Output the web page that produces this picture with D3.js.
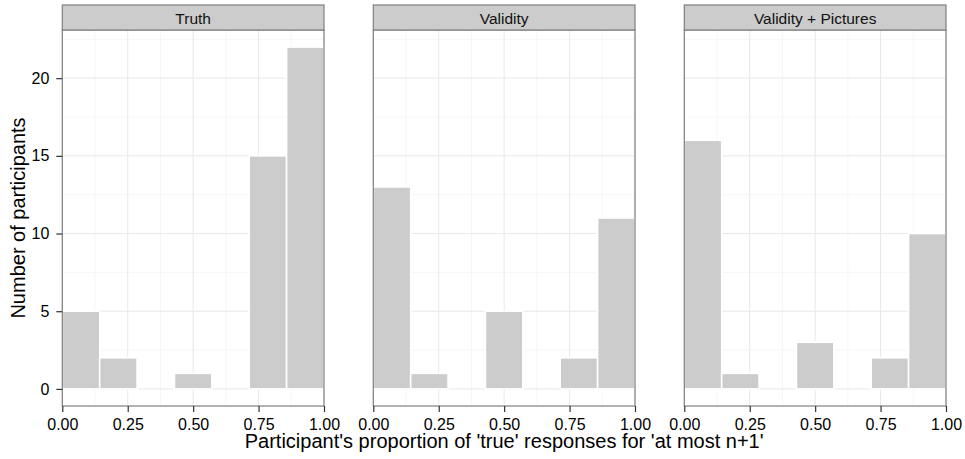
<!DOCTYPE html>
<html>
<head>
<meta charset="utf-8">
<script src="https://cdn.jsdelivr.net/npm/d3@7"></script>
<style>
  body { margin: 0; background: #fff; }
  text { font-family: "Liberation Sans", Arial, Helvetica, sans-serif; }
</style>
</head>
<body>
<div id="chart"></div>
<script>
// facet names and histogram counts (7 bins of width 1/7 over 0..1)
var facets = ["Truth", "Validity", "Validity + Pictures"];
var binEdges = [0, 1/7, 2/7, 3/7, 4/7, 5/7, 6/7, 1];
var truthCounts = [5, 2, 0, 1, 0, 15, 22];
var validityCounts = [13, 1, 0, 5, 0, 2, 11];
var picturesCounts = [16, 1, 0, 3, 0, 2, 10];
var allCounts = [truthCounts, validityCounts, picturesCounts];
var xTicks = [0, 0.25, 0.5, 0.75, 1];
var yTicks = [0, 5, 10, 15, 20];

var width = 965, height = 459;
var panelLeft = [62.3, 373.3, 684.3];
var panelW = 261.7;
var stripTop = 5, panelTop = 30, panelBottom = 406;

var svg = d3.select("#chart").append("svg")
    .attr("width", width)
    .attr("height", height);

var y = d3.scaleLinear().domain([-1.1, 23.1]).range([panelBottom, panelTop]);

facets.forEach(function (name, i) {
    var x = d3.scaleLinear().domain([0, 1]).range([panelLeft[i], panelLeft[i] + panelW]);
    var g = svg.append("g");

    // panel background
    g.append("rect")
        .attr("x", panelLeft[i]).attr("y", panelTop)
        .attr("width", panelW).attr("height", panelBottom - panelTop)
        .attr("fill", "#fff");

    // minor grid
    var xMinor = [0.125, 0.375, 0.625, 0.875];
    var yMinor = [2.5, 7.5, 12.5, 17.5, 22.5];
    g.selectAll(".xminor").data(xMinor).enter().append("line")
        .attr("x1", function (d) { return x(d); }).attr("x2", function (d) { return x(d); })
        .attr("y1", panelTop).attr("y2", panelBottom)
        .attr("stroke", "#f6f6f6").attr("stroke-width", 1);
    g.selectAll(".yminor").data(yMinor).enter().append("line")
        .attr("x1", panelLeft[i]).attr("x2", panelLeft[i] + panelW)
        .attr("y1", function (d) { return y(d); }).attr("y2", function (d) { return y(d); })
        .attr("stroke", "#f6f6f6").attr("stroke-width", 1);

    // major grid
    g.selectAll(".xmajor").data(xTicks).enter().append("line")
        .attr("x1", function (d) { return x(d); }).attr("x2", function (d) { return x(d); })
        .attr("y1", panelTop).attr("y2", panelBottom)
        .attr("stroke", "#e8e8e8").attr("stroke-width", 1);
    g.selectAll(".ymajor").data(yTicks).enter().append("line")
        .attr("x1", panelLeft[i]).attr("x2", panelLeft[i] + panelW)
        .attr("y1", function (d) { return y(d); }).attr("y2", function (d) { return y(d); })
        .attr("stroke", "#e8e8e8").attr("stroke-width", 1);

    // bars
    var bins = allCounts[i].map(function (c, k) {
        return { x0: binEdges[k], x1: binEdges[k + 1], count: c };
    }).filter(function (d) { return d.count > 0; });

    g.selectAll(".bar").data(bins).enter().append("rect")
        .attr("x", function (d) { return x(d.x0); })
        .attr("y", function (d) { return y(d.count); })
        .attr("width", function (d) { return x(d.x1) - x(d.x0); })
        .attr("height", function (d) { return y(0) - y(d.count); })
        .attr("fill", "#cccccc")
        .attr("stroke", "#fff")
        .attr("stroke-width", 1.6);

    // panel border
    g.append("rect")
        .attr("x", panelLeft[i]).attr("y", panelTop)
        .attr("width", panelW).attr("height", panelBottom - panelTop)
        .attr("fill", "none").attr("stroke", "#7f7f7f").attr("stroke-width", 1.2);

    // strip
    g.append("rect")
        .attr("x", panelLeft[i]).attr("y", stripTop)
        .attr("width", panelW).attr("height", panelTop - stripTop)
        .attr("fill", "#cccccc").attr("stroke", "#7f7f7f").attr("stroke-width", 1.2);
    g.append("text")
        .attr("x", panelLeft[i] + panelW / 2).attr("y", 23.5)
        .attr("text-anchor", "middle")
        .attr("font-size", "15.5px").attr("fill", "#111")
        .text(name);

    // x axis
    var xAxis = g.append("g")
        .attr("transform", "translate(0," + panelBottom + ")")
        .call(d3.axisBottom(x).tickValues(xTicks).tickFormat(d3.format(".2f")).tickSize(6).tickPadding(7));
    xAxis.select(".domain").remove();
    xAxis.selectAll("line").attr("stroke", "#333").attr("stroke-width", 1.2);
    xAxis.selectAll("text").attr("font-size", "16px").attr("fill", "#000")
        .attr("font-family", "Liberation Sans, Arial, sans-serif");
});

// y axis on first panel
var yAxis = svg.append("g")
    .attr("transform", "translate(" + panelLeft[0] + ",0)")
    .call(d3.axisLeft(y).tickValues(yTicks).tickSize(6).tickPadding(7));
yAxis.select(".domain").remove();
yAxis.selectAll("line").attr("stroke", "#333").attr("stroke-width", 1.2);
yAxis.selectAll("text").attr("font-size", "16px").attr("fill", "#000")
    .attr("font-family", "Liberation Sans, Arial, sans-serif");

// axis titles
svg.append("text")
    .attr("x", (panelLeft[0] + panelLeft[2] + panelW) / 2).attr("y", 448)
    .attr("text-anchor", "middle")
    .attr("font-size", "20px").attr("fill", "#000")
    .text("Participant's proportion of 'true' responses for 'at most n+1'");

svg.append("text")
    .attr("transform", "translate(25," + ((panelTop + panelBottom) / 2) + ") rotate(-90)")
    .attr("text-anchor", "middle")
    .attr("font-size", "20px").attr("fill", "#000")
    .text("Number of participants");
</script>
</body>
</html>
